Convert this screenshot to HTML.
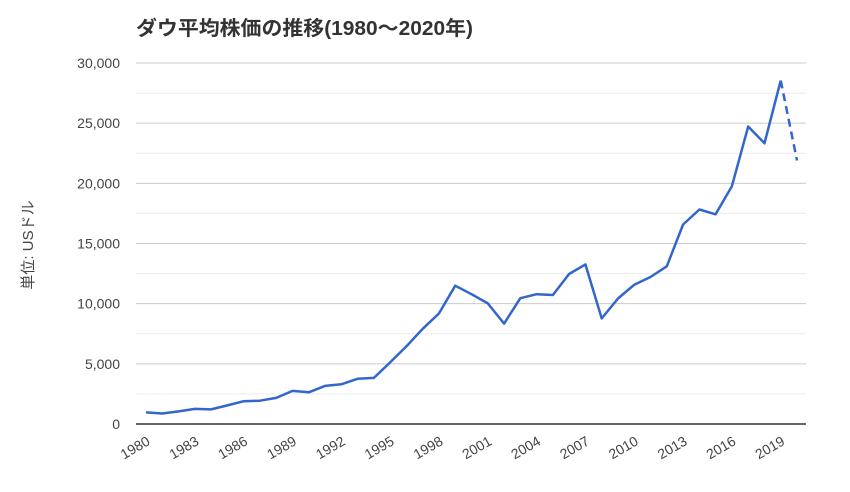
<!DOCTYPE html>
<html><head><meta charset="utf-8">
<style>
html,body{margin:0;padding:0;background:#fff;}
svg{display:block;font-family:"Liberation Sans","Noto Sans CJK JP",sans-serif;}
</style></head>
<body>
<svg id="chart" width="850" height="492" viewBox="0 0 850 492">
<text x="136" y="35" font-size="20" font-weight="bold" fill="#333" textLength="337" lengthAdjust="spacingAndGlyphs">ダウ平均株価の推移(1980～2020年)</text>
<text transform="translate(33,245) rotate(-90)" text-anchor="middle" font-size="15" fill="#444">単位: USドル</text>
<g id="grid"></g><g id="ylab"></g><g id="xlab"></g><g id="series"></g>
</svg>
<script>
const years = [1980,1981,1982,1983,1984,1985,1986,1987,1988,1989,1990,1991,1992,1993,1994,1995,1996,1997,1998,1999,2000,2001,2002,2003,2004,2005,2006,2007,2008,2009,2010,2011,2012,2013,2014,2015,2016,2017,2018,2019,2020];
const values = [964,875,1046,1258,1211,1546,1895,1938,2168,2753,2633,3168,3301,3754,3834,5117,6448,7908,9181,11497,10787,10021,8341,10453,10783,10717,12463,13264,8776,10428,11577,12217,13104,16576,17823,17425,19762,24719,23327,28538,21900];
const yTicks = [0,5000,10000,15000,20000,25000,30000];
const xTickLabels = ["1980","1983","1986","1989","1992","1995","1998","2001","2004","2007","2010","2013","2016","2019"];
const NS="http://www.w3.org/2000/svg";
const X0=146,X1=797,L=136,R=806,Y0=424,Y1=63;
const x=y=>X0+(y-1980)*(X1-X0)/40;
const yS=v=>Y0-v*(Y0-Y1)/30000;
function mk(t,a,p){const e=document.createElementNS(NS,t);for(const k in a)e.setAttribute(k,a[k]);p.appendChild(e);return e;}
const grid=document.getElementById('grid');
for(let v=2500;v<=30000;v+=2500){
  const g=mk('line',{x1:L,x2:R,y1:yS(v),y2:yS(v),stroke:v%5000?'#ebebeb':'#cccccc','stroke-width':1},grid);
  
  
}
const ax=mk('line',{x1:L,x2:R,y1:Y0,y2:Y0,stroke:'#666','stroke-width':2},grid);


const yl=document.getElementById('ylab');
yTicks.forEach(v=>{
  const t=mk('text',{x:120,y:yS(v)+5,'text-anchor':'end','font-size':14,fill:'#444'},yl);
  t.textContent=v.toLocaleString('en-US');
  
  
});
const xl=document.getElementById('xlab');
xTickLabels.forEach(s=>{
  const px=x(+s);
  const t=mk('text',{transform:`translate(${px+5},${Y0+20}) rotate(-30)`,'text-anchor':'end','font-size':14,fill:'#444'},xl);
  t.textContent=s;
  
  
});
const sr=document.getElementById('series');
const n=values.length;
let d='';
for(let i=0;i<n-1;i++)d+=(i?'L':'M')+x(years[i]).toFixed(1)+','+yS(values[i]).toFixed(1);
const p=mk('path',{d:d,fill:'none',stroke:'#3366cc','stroke-width':2.5,'stroke-linejoin':'round'},sr);


const dp=mk('path',{d:`M${x(years[n-2])},${yS(values[n-2])}L${x(years[n-1])},${yS(values[n-1])}`,fill:'none',stroke:'#3366cc','stroke-width':2.5,'stroke-dasharray':'8,5'},sr);


</script>
</body></html>
